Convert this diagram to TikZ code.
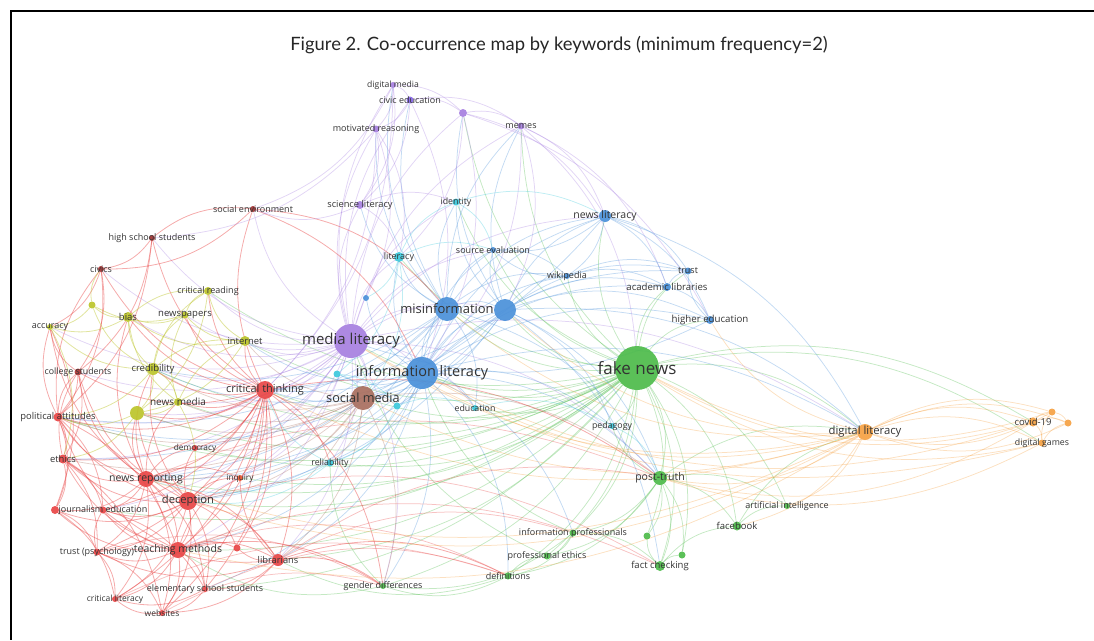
\documentclass[tikz,border=0pt]{standalone}
\usepackage{fontspec}
\setmainfont{Open Sans}
\newfontfamily\titlefont{Lato}
\pgfdeclarelayer{bg}
\pgfsetlayers{bg,main}
\definecolor{cR}{HTML}{E84545}
\definecolor{cG}{HTML}{4DBB4A}
\definecolor{cB}{HTML}{4A90D9}
\definecolor{cY}{HTML}{BCC42A}
\definecolor{cP}{HTML}{A67FE0}
\definecolor{cC}{HTML}{3CC9DC}
\definecolor{cO}{HTML}{F5A142}
\definecolor{cBr}{HTML}{A86E5E}
\definecolor{labc}{HTML}{333333}
\newcommand\lf[1]{\fontsize{#1}{#1}\selectfont}
\newcommand\kw[4]{\node[kwdot,fill=#4,minimum size=#3] (#1) at (#2) {};}
\newcommand\kl[3]{\node[kwlab,font=\lf{#3}] (#1-l) at (#1) {#2};}
\tikzset{
  kwdot/.style={circle,inner sep=0pt,draw=none,fill opacity=0.92},
  kwlab/.style={inner sep=0pt,text=labc},
  e/.style={draw=#1,draw opacity=0.33,line width=0.75pt,bend left=22},
  er/.style={draw=#1,draw opacity=0.45,line width=0.8pt,bend left=22},
  frame/.style={line width=1.4pt,draw=black}
}
\begin{document}
\begin{tikzpicture}[x=1pt,y=-1pt]
\useasboundingbox (0,0) rectangle (1094,640);
\coordinate (f1) at (10,11);
\coordinate (f2) at (1094,11);
\coordinate (f3) at (11,11);
\coordinate (f4) at (11,640);
\draw[frame] (f1) -- (f2);
\draw[frame] (f3) -- (f4);
\node[font=\titlefont\fontsize{18.4}{18.4}\selectfont,text=black!85] (title) at (559,45) {Figure 2. Co-occurrence map by keywords (minimum frequency=2)};
% nodes
\kw{ml}{351,341}{34}{cP}
\kw{dm}{393,85}{6}{cP}
\kw{ce}{410,100}{7}{cP!80!blue}
\kw{pu1}{463,113}{8}{cP}
\kw{mr}{376,129}{7}{cP}
\kw{me}{521,126}{7}{cP}
\kw{sl}{360,205}{8}{cP}
\kw{id}{456,202}{7}{cC}
\kw{li}{399,257}{10}{cC}
\kw{cy1}{337,374}{7}{cC}
\kw{cy2}{397,406}{7}{cC}
\kw{ed}{475,408}{6}{cC}
\kw{rel}{330,463}{7}{cC}
\kw{ped}{612,426}{6}{cC}
\kw{il}{422,373}{32}{cB}
\kw{mi}{447,309}{24}{cB}
\kw{bu1}{505,310}{22}{cB}
\kw{nl}{605,216}{12}{cB}
\kw{se}{493,250}{6}{cB}
\kw{wi}{567,276}{6}{cB}
\kw{tr}{688,271}{7}{cB}
\kw{al}{667,287}{8}{cB}
\kw{he}{710,320}{8}{cB}
\kw{bu2}{366,298}{6}{cB}
\kw{sm}{363,398}{24}{cBr}
\kw{fn}{637,368}{44}{cG}
\kw{pt}{660,478}{14}{cG}
\kw{ip}{573,533}{7}{cG}
\kw{pe}{547,556}{7}{cG}
\kw{de}{508,576}{7}{cG}
\kw{gd}{383,586}{6}{cG}
\kw{fc}{660,566}{10}{cG}
\kw{gu1}{647,536}{7}{cG}
\kw{gu2}{682,555}{7}{cG}
\kw{fb}{737,526}{9}{cG}
\kw{ai}{787,506}{6}{cG}
\kw{dl}{865,432}{16}{cO}
\kw{cv}{1033,422}{9}{cO}
\kw{dg}{1042,443}{7}{cO}
\kw{ou1}{1052,412}{7}{cO}
\kw{ou2}{1068,423}{7}{cO}
\kw{ct}{265,390}{18}{cR}
\kw{nr}{146,479}{16}{cR}
\kw{dc}{188,501}{18}{cR}
\kw{tm}{178,550}{16}{cR}
\kw{lib}{278,560}{12}{cR}
\kw{je}{103,510}{7}{cR}
\kw{ru1}{55,510}{8}{cR}
\kw{pa}{58,417}{9}{cR}
\kw{eth}{63,459}{9}{cR}
\kw{dem}{195,448}{6}{cR}
\kw{inq}{240,478}{6}{cR!70!orange}
\kw{tp}{97,552}{7}{cR}
\kw{ru2}{237,548}{7}{cR}
\kw{ess}{205,589}{6}{cR}
\kw{cl}{115,599}{6}{cR}
\kw{web}{162,613}{6}{cR}
\kw{civ}{101,269}{6}{cR!70!black}
\kw{hss}{152,238}{6}{cR!70!black}
\kw{sen}{253,209}{6}{cR!70!black}
\kw{cs}{78,372}{7}{cR!75!black}
\kw{cr}{208,291}{8}{cY}
\kw{yu1}{92,305}{7}{cY}
\kw{bias}{128,317}{10}{cY}
\kw{np}{185,315}{7}{cY}
\kw{acc}{50,327}{6}{cY}
\kw{int}{245,341}{10}{cY}
\kw{cred}{153,369}{12}{cY}
\kw{nm}{178,402}{8}{cY}
\kw{yu2}{137,413}{14}{cY}
% edges
\begin{pgfonlayer}{bg}
\foreach \b in {ml,il,mi,bu1,sm,ct,nr,dc,tm,pt,ip,pe,de,gd,fc,gu1,gu2,fb,ai,dl,cv,dg,nl,wi,al,he,tr,ped,ed,se,li,lib,int,cred,nm,pa,je,id,me,pu1,cr,rel,inq,ess,dem,yu2}
  \draw[e=cG] (fn) to (\b);
\foreach \b in {dm,ce,pu1,mr,me,sl,il,mi,bu1,sm,ct,nr,dc,tm,lib,cred,int,np,cr,bias,nm,yu2,pa,eth,civ,hss,sen,cs,acc,dem,inq,je,dl,li,id,se,nl,ed,rel,gd,pt}
  \draw[e=cP] (ml) to (\b);
\foreach \b in {mi,bu1,sm,nl,se,wi,al,he,tr,ct,li,ed,rel,ped,lib,tm,dc,nr,cred,int,pt,ip,dl,de,gd,cy1,cy2,bu2,pa,ess}
  \draw[e=cB] (il) to (\b);
\foreach \b in {bu1,nl,se,wi,sm,ct,nr,dc,li,id,pt,ed,sl,mr,ce,dm,me,cred,pa,eth}
  \draw[e=cB] (mi) to (\b);
\foreach \b in {nl,wi,al,tr,he,se,sm,ct,nr,dc,pt,fc,dl,ped,id,me,pu1}
  \draw[e=cB] (bu1) to (\b);
\foreach \b in {ct,nr,dc,tm,cred,nm,int,pa,eth,rel,cy2,dem,inq,lib,pt,gd,yu2}
  \draw[e=cBr] (sm) to (\b);
\foreach \a/\b in {ct/nr,ct/dc,ct/tm,ct/lib,ct/cred,ct/nm,ct/int,ct/cr,ct/np,ct/bias,ct/pa,ct/eth,ct/dem,ct/inq,ct/je,ct/tp,ct/ess,ct/cl,ct/web,ct/hss,ct/sen,ct/civ,ct/cs,ct/ru2,ct/yu2,ct/gd,ct/rel,ct/pt,
  nr/dc,nr/tm,nr/je,nr/ru1,nr/pa,nr/eth,nr/tp,nr/cl,nr/web,nr/ess,nr/dem,nr/inq,nr/lib,nr/cred,nr/nm,nr/yu2,nr/acc,nr/cs,nr/bias,
  dc/tm,dc/je,dc/ru1,dc/pa,dc/eth,dc/tp,dc/cl,dc/web,dc/ess,dc/dem,dc/inq,dc/lib,dc/ru2,dc/cs,dc/yu2,dc/cred,
  tm/lib,tm/ess,tm/cl,tm/web,tm/tp,tm/je,tm/ru1,tm/ru2,tm/eth,tm/pa,tm/inq,tm/gd,
  lib/ess,lib/web,lib/ru2,lib/tp,lib/je,lib/inq,lib/gd,lib/de,
  pa/eth,pa/cs,pa/acc,pa/civ,pa/je,pa/ru1,eth/ru1,eth/je,eth/tp,eth/cs,
  hss/sen,hss/civ,hss/cs,hss/pa,civ/acc,civ/cs,civ/pa,sen/civ,sen/il,sen/mi,
  tp/cl,tp/je,tp/web,ess/web,ess/cl,cs/acc,cs/pa,web/cl,ru1/tp,
  ru1/cl,eth/web,pa/tm,je/ess,cs/eth,acc/ru1}
  \draw[er=cR] (\a) to (\b);
\foreach \a/\b in {tm/fc,lib/pt,nr/pt,dc/fc,ess/de,web/gd,tp/gd,cl/de,lib/ip,tm/de}
  \draw[e=cR] (\a) to (\b);
\foreach \a/\b in {cred/nm,cred/bias,cred/np,cred/int,cred/cr,cred/acc,cred/yu1,cred/yu2,cred/pa,
  nm/yu2,nm/bias,nm/np,nm/int,nm/dc,int/cr,int/np,int/bias,int/yu2,np/cr,np/bias,np/yu1,
  bias/yu1,bias/acc,bias/cr,yu1/acc,yu1/civ,cr/yu2,yu2/pa,yu2/eth,acc/eth}
  \draw[er=cY] (\a) to (\b);
\foreach \a/\b in {dm/ce,dm/mr,dm/pu1,dm/sl,ce/mr,ce/pu1,ce/sl,ce/me,pu1/me,pu1/nl,pu1/li,mr/sl,mr/li,mr/bu2,
  me/nl,me/bu1,sl/li,sl/sen,sl/id,mr/ct,dm/ct,ce/il,pu1/il,me/il,pu1/he,me/al,mr/hss,dm/sen,me/fn}
  \draw[e=cP] (\a) to (\b);
\foreach \a/\b in {li/bu2,li/cy1,li/id,li/se,li/sm,cy1/cy2,cy1/sm,cy2/rel,cy2/ed,ed/ped,rel/dc,rel/nr,rel/ct,ped/pt,id/nl,id/se}
  \draw[e=cC] (\a) to (\b);
\foreach \a/\b in {nl/wi,nl/tr,nl/al,nl/se,nl/he,wi/tr,wi/al,wi/se,al/tr,al/he,he/tr,se/wi,nl/ct,he/ml,nl/dl}
  \draw[e=cB] (\a) to (\b);
\foreach \a/\b in {pt/ip,pt/fc,pt/gu1,pt/gu2,pt/fb,pt/ai,pt/pe,pt/de,pt/dl,pt/ped,ip/pe,ip/de,ip/gd,ip/fc,
  fc/gu1,fc/gu2,fc/fb,fb/ai,fb/dl,de/gd,de/pe,gd/rel,gd/tm,de/lib,ip/il,pe/ml}
  \draw[e=cG] (\a) to (\b);
\foreach \a/\b in {dl/cv,dl/dg,dl/ou1,dl/ou2,dl/ml,dl/il,dl/mi,dl/bu1,dl/he,dl/pt,dl/ai,dl/fb,dl/ct,dl/nr,dl/dc,dl/tm,dl/sm,
  cv/dg,cv/ou1,cv/ou2,dg/ou1,dg/ou2,ou1/ou2,cv/fn,dg/fn,ou1/fn,cv/il,dg/ml,ou2/dl,cv/pt,dg/pt,ou1/dl}
  \draw[e=cO] (\a) to (\b);
\end{pgfonlayer}
% labels
\kl{ml}{media literacy}{15}
\kl{dm}{digital media}{8.6}
\kl{ce}{civic education}{9}
\kl{mr}{motivated reasoning}{9}
\kl{me}{memes}{9}
\kl{sl}{science literacy}{9.3}
\kl{id}{identity}{8.8}
\kl{li}{literacy}{9}
\kl{ed}{education}{8.8}
\kl{rel}{reliability}{8.8}
\kl{ped}{pedagogy}{8.8}
\kl{il}{information literacy}{14.5}
\kl{mi}{misinformation}{13}
\kl{nl}{news literacy}{10.5}
\kl{se}{source evaluation}{9}
\kl{wi}{wikipedia}{9}
\kl{tr}{trust}{9}
\kl{al}{academic libraries}{9.6}
\kl{he}{higher education}{9.7}
\kl{sm}{social media}{12.7}
\kl{fn}{fake news}{17}
\kl{pt}{post-truth}{10.5}
\kl{ip}{information professionals}{9}
\kl{pe}{professional ethics}{9}
\kl{de}{definitions}{9}
\kl{gd}{gender differences}{9}
\kl{fc}{fact checking}{9.5}
\kl{fb}{facebook}{9.5}
\kl{ai}{artificial intelligence}{9}
\kl{dl}{digital literacy}{11.3}
\kl{cv}{covid-19}{9.5}
\kl{dg}{digital games}{8.8}
\kl{ct}{critical thinking}{11}
\kl{nr}{news reporting}{10.5}
\kl{dc}{deception}{11.2}
\kl{tm}{teaching methods}{10.5}
\kl{lib}{librarians}{9.3}
\kl{je}{journalism education}{9}
\kl{pa}{political attitudes}{9.4}
\kl{eth}{ethics}{9.4}
\kl{dem}{democracy}{8.3}
\kl{inq}{inquiry}{8.3}
\kl{tp}{trust (psychology)}{9}
\kl{ess}{elementary school students}{9}
\kl{cl}{critical literacy}{8.5}
\kl{web}{websites}{8.5}
\kl{civ}{civics}{9}
\kl{hss}{high school students}{9}
\kl{sen}{social environment}{9}
\kl{cs}{college students}{8.8}
\kl{cr}{critical reading}{9}
\kl{bias}{bias}{9.5}
\kl{np}{newspapers}{9.5}
\kl{acc}{accuracy}{9}
\kl{int}{internet}{9.4}
\kl{cred}{credibility}{9.5}
\kl{nm}{news media}{10}
\end{tikzpicture}
\end{document}
